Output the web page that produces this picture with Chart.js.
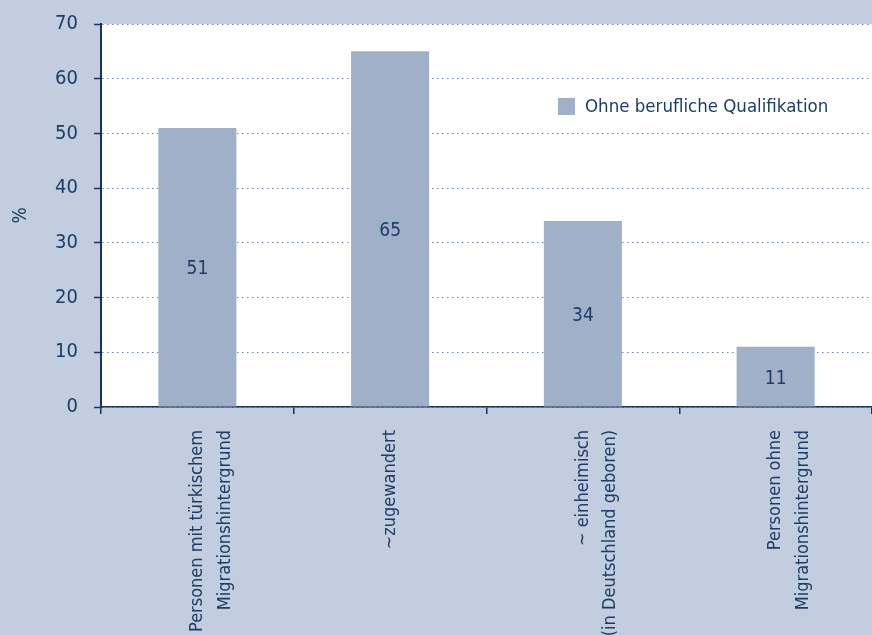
<!DOCTYPE html>
<html>
<head>
<meta charset="utf-8">
<script src="https://cdn.jsdelivr.net/npm/chart.js@4"></script>
<style>
    html, body { margin: 0; padding: 0; background: #c2cddf; }
    #wrap { width: 872px; height: 635px; position: relative; }
</style>
</head>
<body>
<div id="wrap"><canvas id="qualiChart"></canvas></div>
<script>
// Data
const categories = [
    ['Personen mit türkischem', 'Migrationshintergrund'],
    ['~zugewandert'],
    ['~ einheimisch', '(in Deutschland geboren)'],
    ['Personen ohne', 'Migrationshintergrund']
];
const seriesLabel = 'Ohne berufliche Qualifikation';
const seriesValues = [51, 65, 34, 11];
const yTicks = [0, 10, 20, 30, 40, 50, 60, 70];

const FONT = "'Liberation Sans Narrow', 'DejaVu Sans Condensed', 'Roboto', sans-serif";
const TEXT = '#1e3c66';
const AXIS = '#17355c';
const BAR = '#a0b0c9';

// White plot area behind the bars
const plotBackground = {
    id: 'plotBackground',
    beforeDraw(chart) {
        const { ctx, chartArea: a } = chart;
        ctx.save();
        ctx.fillStyle = '#ffffff';
        ctx.fillRect(a.left, a.top, a.right - a.left, a.bottom - a.top);
        ctx.restore();
    }
};

// Value labels centred in each bar
const barValues = {
    id: 'barValues',
    afterDatasetsDraw(chart) {
        const { ctx } = chart;
        const meta = chart.getDatasetMeta(0);
        ctx.save();
        ctx.font = '19px ' + FONT;
        ctx.fillStyle = TEXT;
        ctx.textAlign = 'center';
        ctx.textBaseline = 'middle';
        meta.data.forEach((bar, i) => {
            ctx.fillText(String(seriesValues[i]), bar.x, (bar.y + bar.base) / 2 + 2);
        });
        ctx.restore();
    }
};

// Legend placed inside the plot area, top right
const innerLegend = {
    id: 'innerLegend',
    afterDraw(chart) {
        const { ctx, chartArea: a } = chart;
        const x = a.left + 457;
        const y = a.top + 82;
        ctx.save();
        ctx.fillStyle = BAR;
        ctx.fillRect(x, y - 8, 17, 17);
        ctx.font = '18.5px ' + FONT;
        ctx.fillStyle = TEXT;
        ctx.textBaseline = 'middle';
        ctx.fillText(chart.data.datasets[0].label, x + 27, y + 1);
        ctx.restore();
    }
};

function renderChart() {
    const ctx = document.getElementById('qualiChart').getContext('2d');
    new Chart(ctx, {
        type: 'bar',
        data: {
            labels: categories,
            datasets: [{
                label: seriesLabel,
                data: seriesValues,
                backgroundColor: BAR,
                borderWidth: 0,
                barPercentage: 0.81,
                categoryPercentage: 0.5
            }]
        },
        options: {
            responsive: true,
            maintainAspectRatio: false,
            animation: false,
            layout: { padding: { top: 24, right: 0, bottom: 0, left: 0 } },
            plugins: {
                legend: { display: false },
                tooltip: { enabled: false }
            },
            scales: {
                x: {
                    afterFit(scale) {
                        scale.height = 228;
                        scale.paddingLeft = 0;
                        scale.paddingRight = 0;
                    },
                    grid: {
                        offset: true,
                        drawOnChartArea: false,
                        color: AXIS,
                        tickLength: 7,
                        lineWidth: 1.5
                    },
                    border: { color: AXIS, width: 1.5 },
                    ticks: {
                        color: TEXT,
                        font: { family: FONT, size: 18, lineHeight: 1.55 },
                        minRotation: 90,
                        maxRotation: 90,
                        padding: 16
                    }
                },
                y: {
                    min: 0,
                    max: 70,
                    afterBuildTicks(scale) {
                        scale.ticks = yTicks.map(v => ({ value: v }));
                    },
                    afterFit(scale) {
                        scale.width = 101;
                        scale.paddingTop = 0;
                        scale.paddingBottom = 0;
                    },
                    title: {
                        display: true,
                        text: '%',
                        color: TEXT,
                        font: { family: FONT, size: 19 },
                        padding: { top: 10, bottom: 0 }
                    },
                    grid: {
                        color: '#6a87b0',
                        tickColor: AXIS,
                        tickLength: 7,
                        tickWidth: 1.5,
                        tickBorderDash: []
                    },
                    border: { color: AXIS, width: 2, dash: [1.5, 3.5] },
                    ticks: {
                        color: TEXT,
                        font: { family: FONT, size: 20 },
                        padding: 16
                    }
                }
            }
        },
        plugins: [plotBackground, barValues, innerLegend]
    });
}

renderChart();
</script>
</body>
</html>
